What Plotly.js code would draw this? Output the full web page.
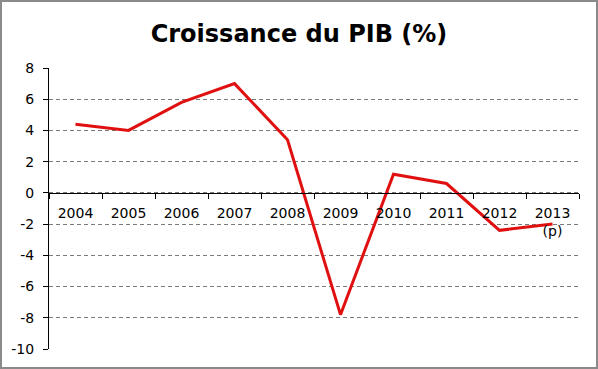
<!DOCTYPE html>
<html>
<head>
<meta charset="utf-8">
<script src="https://cdn.plot.ly/plotly-3.0.1.min.js"></script>
<style>
  html, body { margin: 0; padding: 0; background: #fff; }
  #wrap { position: relative; width: 598px; height: 369px; }
  #chart { width: 598px; height: 369px; }
  #frame { position: absolute; left: 0; top: 0; width: 598px; height: 369px; box-sizing: border-box; border: 2px solid #8a8a8a; pointer-events: none; }
</style>
</head>
<body>
<div id="wrap"><div id="chart"></div><div id="frame"></div></div>
<script>
const years = ["2004", "2005", "2006", "2007", "2008", "2009", "2010", "2011", "2012", "2013"];
const yearLabels = ["2004", "2005", "2006", "2007", "2008", "2009", "2010", "2011", "2012", "2013<br>(p)"];
const growth = [4.4, 4.0, 5.8, 7.0, 3.4, -7.8, 1.2, 0.6, -2.4, -2.0];
const yTicks = [-10, -8, -6, -4, -2, 0, 2, 4, 6, 8];
const yTickLabels = ["-10", "-8", "-6", "-4", "-2", "0", "2", "4", "6", "8"];

const yMin = -10, yMax = 8;
const font = "DejaVu Sans, sans-serif";

Plotly.newPlot("chart", [{
  x: years,
  y: growth,
  type: "scatter",
  mode: "lines",
  line: { color: "#e01010", width: 3 },
  hoverinfo: "skip"
}], {
  width: 598,
  height: 369,
  margin: { l: 49, r: 19, t: 68, b: 20 },
  paper_bgcolor: "#fff",
  plot_bgcolor: "#fff",
  showlegend: false,
  title: {
    text: "<b>Croissance du PIB (%)</b>",
    font: { family: font, size: 24, color: "#000" },
    x: 0.5, xref: "container", xanchor: "center",
    y: 0.91, yref: "container", yanchor: "middle"
  },
  xaxis: {
    type: "category",
    range: [-0.5, years.length - 0.5],
    tickmode: "array",
    tickvals: years,
    ticktext: yearLabels,
    anchor: "free",
    position: (0 - yMin) / (yMax - yMin),
    showline: true,
    linecolor: "#000",
    linewidth: 1,
    ticks: "outside",
    ticklen: 5,
    tickcolor: "#000",
    tickson: "boundaries",
    showgrid: false,
    zeroline: false,
    tickfont: { family: font, size: 14, color: "#000" },
    ticklabelstandoff: 7,
    fixedrange: true
  },
  yaxis: {
    range: [yMin, yMax],
    tickmode: "array",
    tickvals: yTicks,
    ticktext: yTickLabels,
    showline: true,
    linecolor: "#000",
    linewidth: 1,
    ticks: "outside",
    ticklen: 5,
    tickcolor: "#000",
    showgrid: true,
    gridcolor: "#7a7a7a",
    gridwidth: 1,
    griddash: "4px,3px",
    zeroline: false,
    tickfont: { family: font, size: 14, color: "#000" },
    ticklabelstandoff: 6,
    fixedrange: true
  }
}, { displayModeBar: false, staticPlot: true });
</script>
</body>
</html>
